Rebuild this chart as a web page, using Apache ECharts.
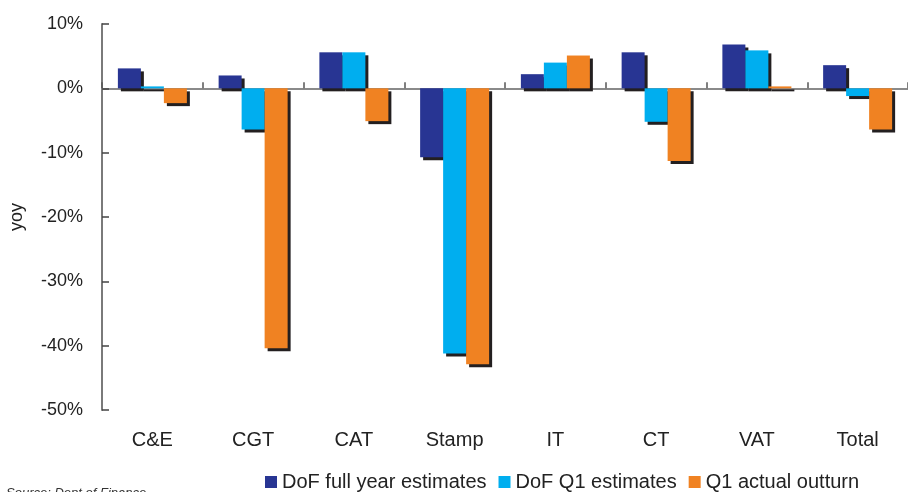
<!DOCTYPE html>
<html><head><meta charset="utf-8">
<script src="https://cdn.jsdelivr.net/npm/echarts@6/dist/echarts.min.js"></script>
<style>html,body{margin:0;padding:0;background:#fff}#c{width:908px;height:492px}</style>
</head><body><div id="c"></div>
<script>
var categories = ['C&E', 'CGT', 'CAT', 'Stamp', 'IT', 'CT', 'VAT', 'Total'];
var dofFullYear = [3.1, 2.0, 5.6, -10.7, 2.2, 5.6, 6.8, 3.6];
var dofQ1 = [0.3, -6.4, 5.6, -41.2, 4.0, -5.2, 5.9, -1.2];
var q1Actual = [-2.3, -40.4, -5.1, -42.9, 5.1, -11.3, 0.3, -6.4];
var seriesNames = ['DoF full year estimates', 'DoF Q1 estimates', 'Q1 actual outturn'];
var colors = ['#283593', '#00aeef', '#f08222'];

var font = 'Liberation Sans, Arial, sans-serif';
var chart = echarts.init(document.getElementById('c'));
function mk(name, data, color) {
  return {
    name: name, type: 'bar', data: data, xAxisIndex: 0,
    barWidth: 23, barGap: '0%',
    itemStyle: { color: color, shadowColor: '#231f20', shadowOffsetX: 3, shadowOffsetY: 3, shadowBlur: 0 },
    emphasis: { disabled: true }
  };
}
chart.setOption({
  animation: false,
  color: colors,
  grid: { left: 102, top: 24, bottom: 82, width: 812 },
  legend: {
    top: 467, left: 260, itemWidth: 12, itemHeight: 12, itemGap: 12,
    icon: 'rect',
    textStyle: { fontFamily: font, fontSize: 20, color: '#222' },
    data: seriesNames
  },
  xAxis: [{
    type: 'category', data: categories, position: 'bottom',
    axisLine: { onZero: true, lineStyle: { color: '#8a8a8a', width: 2 } },
    axisTick: { show: true, inside: true, length: 6, lineStyle: { color: '#555', width: 1.5 } },
    axisLabel: { show: false }
  }, {
    type: 'category', data: categories, position: 'bottom',
    axisLine: { show: false, onZero: false }, axisTick: { show: false },
    axisLabel: { fontFamily: font, fontSize: 20, color: '#222', margin: 20 }
  }],
  yAxis: {
    type: 'value', min: -50, max: 10, interval: 10,
    name: 'yoy', nameLocation: 'middle', nameGap: 76, nameRotate: 90,
    nameTextStyle: { fontFamily: font, fontSize: 18, color: '#222' },
    axisLine: { show: true, lineStyle: { color: '#7a7a7a', width: 2 } },
    axisTick: { show: true, inside: true, length: 7, lineStyle: { color: '#444', width: 1.5 } },
    splitLine: { show: false },
    axisLabel: { fontFamily: font, fontSize: 18, color: '#222', margin: 19, formatter: '{value}%' }
  },
  series: [mk(seriesNames[0], dofFullYear, colors[0]), mk(seriesNames[1], dofQ1, colors[1]), mk(seriesNames[2], q1Actual, colors[2])],
  graphic: [{
    type: 'text', left: 6, top: 487,
    style: { text: 'Source: Dept of Finance', font: 'italic 13px ' + font, fill: '#333' }
  }]
});
</script></body></html>
